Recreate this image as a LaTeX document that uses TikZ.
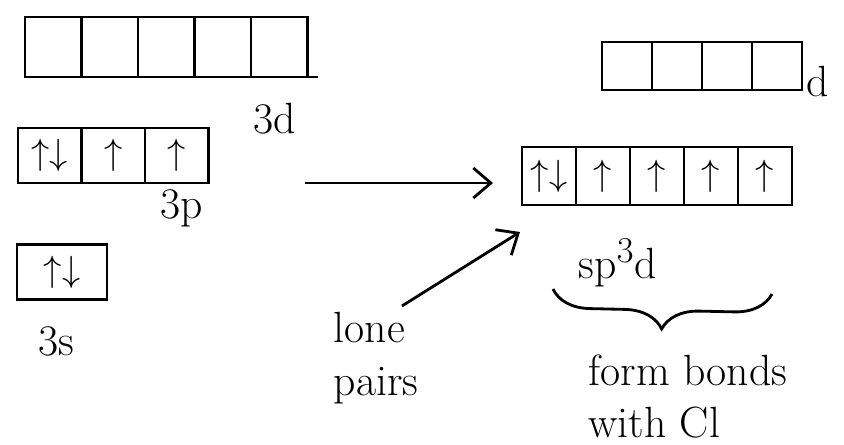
\documentclass[tikz,border=0pt]{standalone}
\usetikzlibrary{arrows.meta, positioning, decorations.pathreplacing}
\tikzset{
    caja/.style={draw, line width=1.6pt, outer sep=0pt, inner sep=0pt, font=\huge},
    caja3d/.style={caja, minimum width=1.13cm, minimum height=1.2cm},
    caja3p/.style={caja, minimum width=1.27cm, minimum height=1.1cm},
    caja3s/.style={caja, minimum width=1.8cm, minimum height=1.1cm},
    cajah/.style={caja, minimum width=1.08cm, minimum height=1.16cm},
    cajad/.style={caja, minimum width=1.0cm, minimum height=0.96cm},
    etiqueta/.style={font=\Huge},
    flecha/.style={line width=1.6pt, -{Straight Barb[length=3.5mm, width=6mm]}},
}

\begin{document}
\begin{tikzpicture}
\useasboundingbox (0,0) rectangle (16.88,8.88);
% 3d vacios
\node[caja3d, anchor=west] (d1) at (0.5,7.94) {};
\foreach \i [count=\j] in {2,...,5}
    \node[caja3d, right=0pt of d\j] (d\i) {};
\draw[line width=1.6pt] (d5.south east) -- ++(0.2,0);
\node[etiqueta] (l3d) at (5.5,6.5) {3d};
% 3p
\node[caja3p, anchor=west] (p1) at (0.36,5.77) {$\uparrow\downarrow$};
\node[caja3p, right=0pt of p1] (p2) {$\uparrow$};
\node[caja3p, right=0pt of p2] (p3) {$\uparrow$};
\node[etiqueta] (l3p) at (3.64,4.72) {3p};
% 3s
\node[caja3s, anchor=west] (s1) at (0.34,3.44) {$\uparrow\downarrow$};
\node[etiqueta] (l3s) at (1.12,2.05) {3s};
% hibridos sp3d
\node[cajah, anchor=west] (h1) at (10.44,5.36) {$\uparrow\downarrow$};
\foreach \i [count=\j] in {2,...,5}
    \node[cajah, right=0pt of h\j] (h\i) {$\uparrow$};
\node[etiqueta, anchor=west] (lsp) at (11.45,3.62) {sp$^3$d};
% d que quedan
\node[cajad, anchor=west] (e1) at (12.04,7.56) {};
\foreach \i [count=\j] in {2,...,4}
    \node[cajad, right=0pt of e\j] (e\i) {};
\node[etiqueta] (ld) at (16.35,7.25) {d};
% flecha de hibridacion
\coordinate (ini) at (6.1,5.22);
\coordinate (fin) at (9.86,5.22);
\draw[flecha] (ini) -- (fin);
% pares solitarios
\node[etiqueta, align=left, anchor=west] (par) at (6.55,1.72) {lone\\pairs};
\coordinate (pfin) at (10.4,4.24);
\draw[flecha] ([xshift=-0.45cm]par.north east) -- (pfin);
% llave
\coordinate (la) at (11.06,3.1);
\coordinate (lb) at (15.44,3.0);
\draw[line width=1.6pt, decorate, decoration={brace, mirror, amplitude=0.75cm}] (la) -- (lb);
\node[etiqueta, align=left, anchor=west] (enl) at (11.65,0.95) {form bonds\\with Cl};
\end{tikzpicture}
\end{document}
